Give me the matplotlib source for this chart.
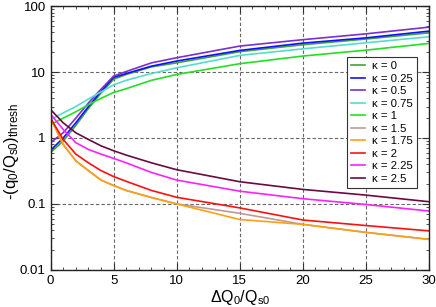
import matplotlib
matplotlib.use("Agg")
import matplotlib.pyplot as plt
from matplotlib.ticker import LogLocator, MultipleLocator, FixedLocator, NullFormatter

plt.rcParams['font.family'] = ['Liberation Sans', 'DejaVu Sans']
plt.rcParams['mathtext.default'] = 'regular'

x = [0, 1, 2, 3, 4, 5, 6, 8, 10, 15, 20, 25, 30]

k0 = [0.60, 0.90, 1.55, 2.8, 4.8, 7.8, 9.2, 12.0, 13.8, 20.4, 26.0, 31.7, 39.4]
k025 = [0.65, 1.0, 1.7, 3.0, 5.1, 8.3, 9.5, 12.3, 14.7, 21.3, 27.5, 33.0, 41.8]
k05 = [0.85, 1.2, 2.0, 3.4, 5.5, 8.7, 10.2, 13.8, 16.5, 24.8, 31.0, 38.0, 48.0]
k075 = [1.9, 2.4, 3.0, 3.9, 5.0, 6.4, 7.5, 9.5, 11.6, 17.9, 22.5, 27.8, 34.3]
k1 = [1.6, 2.0, 2.5, 3.2, 4.0, 4.9, 5.6, 7.5, 9.2, 13.4, 17.5, 21.5, 27.2]
k15 = [2.0, 0.8, 0.45, 0.32, 0.23, 0.19, 0.16, 0.125, 0.1, 0.072, 0.049, 0.037, 0.029]
k175 = [2.0, 0.8, 0.45, 0.32, 0.23, 0.19, 0.16, 0.125, 0.1, 0.058, 0.049, 0.037, 0.029]
k2 = [2.0, 0.95, 0.57, 0.42, 0.32, 0.26, 0.22, 0.16, 0.126, 0.087, 0.057, 0.047, 0.039]
k225 = [2.3, 1.35, 0.85, 0.67, 0.57, 0.49, 0.42, 0.30, 0.23, 0.156, 0.12, 0.098, 0.078]
k25 = [2.7, 1.7, 1.2, 0.95, 0.76, 0.64, 0.55, 0.42, 0.33, 0.217, 0.166, 0.136, 0.108]

labels = ['κ = 0', 'κ = 0.25', 'κ = 0.5', 'κ = 0.75', 'κ = 1',
          'κ = 1.5', 'κ = 1.75', 'κ = 2', 'κ = 2.25', 'κ = 2.5']
series = [k0, k025, k05, k075, k1, k15, k175, k2, k225, k25]
colors = ['#3aa63a', '#1010ff', '#7a2fd0', '#55dcd0', '#22e022',
          '#c09898', '#ffa010', '#ff1010', '#ff20ff', '#6a0a40']

fig = plt.figure(figsize=(4.36, 3.07), dpi=100)
ax = fig.add_axes([0.116, 0.121, 0.868, 0.859])

for s, c, l in zip(series, colors, labels):
    ax.plot(x, s, color=c, lw=1.2, label=l)

ax.set_yscale('log')
ax.set_xlim(0, 30)
ax.set_ylim(0.01, 100)
ax.xaxis.set_major_locator(MultipleLocator(5))
ax.xaxis.set_minor_locator(MultipleLocator(1))
ax.yaxis.set_major_locator(FixedLocator([0.01, 0.1, 1, 10, 100]))
ax.set_yticklabels(['0.01', '0.1', '1', '10', '100'])
ax.yaxis.set_minor_locator(LogLocator(base=10, subs=range(2, 10)))
ax.yaxis.set_minor_formatter(NullFormatter())
ax.tick_params(which='both', direction='in', top=True, right=True, labelsize=9.5,
               color='#333333')
ax.tick_params(which='major', length=5, width=0.8)
ax.tick_params(which='minor', length=2.5, width=0.6)
ax.grid(True, which='major', ls=(0, (3, 2)), color='#666666', lw=0.8)
for sp in ax.spines.values():
    sp.set_color('#222222')
    sp.set_linewidth(1.0)

ax.set_xlabel('ΔQ$_0$/Q$_{s0}$', fontsize=11.5, labelpad=1)
ax.set_ylabel('-(q$_0$/Q$_{s0}$)$_{thresh}$', fontsize=12)
ax.yaxis.set_label_coords(-0.078, 0.45)

leg = ax.legend(loc='upper right', bbox_to_anchor=(0.968, 0.807), borderaxespad=0,
                fontsize=8.2, frameon=True, fancybox=False, edgecolor='#333333',
                framealpha=1, handlelength=1.3, labelspacing=0.22, borderpad=0.35,
                handletextpad=0.6)
leg.get_frame().set_linewidth(0.8)

fig.savefig('out.png', dpi=100)
